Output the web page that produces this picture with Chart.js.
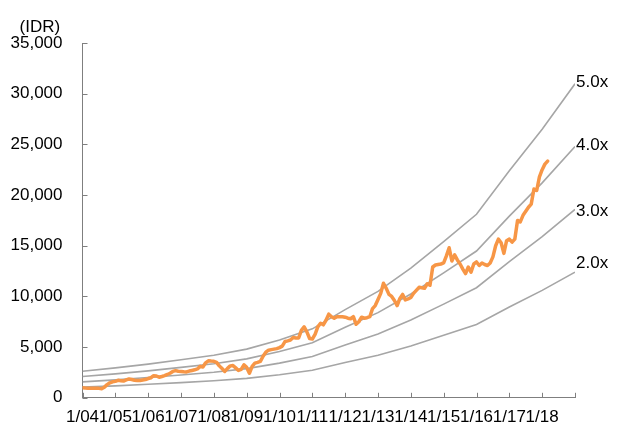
<!DOCTYPE html>
<html>
<head>
<meta charset="utf-8">
<script src="https://cdn.jsdelivr.net/npm/chart.js@4/dist/chart.umd.min.js"></script>
<style>
  html, body { margin: 0; padding: 0; background: #ffffff; }
  #wrap { width: 619px; height: 428px; }
</style>
</head>
<body>
<div id="wrap"><canvas id="chart" width="619" height="428"></canvas></div>
<script>
// Share price (IDR), monthly closes starting January 2004
const startYear = 2004;
const prices = [
  980, 960, 950, 940, 930, 940, 930, 900, 1050, 1300, 1480, 1580,
  1620, 1720, 1690, 1650, 1760, 1860, 1800, 1730, 1700, 1700, 1760, 1800,
  1900, 1980, 2180, 2150, 2030, 2100, 2190, 2300, 2420, 2600, 2680, 2620,
  2600, 2560, 2550, 2640, 2700, 2760, 2850, 3100, 3040, 3450, 3650, 3620,
  3600, 3500, 3150, 2880, 2600, 2900, 3150, 3180, 2950, 2700, 2800, 3250,
  3000, 2420, 3100, 3420, 3500, 3600, 4100, 4500, 4700, 4750, 4800, 4850,
  4950, 5100, 5550, 5620, 5700, 5950, 5900, 5900, 6650, 7000, 6500, 5850,
  5800, 6250, 7000, 7350, 7200, 7650, 8250, 8000, 7850, 8000, 8000, 8000,
  7950, 7850, 7800, 8000, 7250, 7500, 7950, 7850, 7900, 8000, 8800, 9100,
  9700, 10300, 11300, 10800, 10200, 10000, 9600, 9100, 9800, 10200, 9650, 9750,
  9900, 10300, 10600, 10900, 10850, 10800, 11250, 11100, 12900, 13100, 13150, 13200,
  13300, 14000, 14800, 13500, 14100, 13600, 13200, 12700, 12250, 12900, 12400, 13200,
  13400, 13050, 13300, 13150, 13050, 13300, 13900, 15000, 15650, 15300, 14250, 15500,
  15650, 15350, 15650, 17500, 17350, 18000, 18400, 18800, 19100, 20600, 20450, 21800,
  22500, 23050, 23350
];

// P/E band levels at each January, 2004 to 2019
const bandYears = [2004, 2005, 2006, 2007, 2008, 2009, 2010, 2011, 2012, 2013, 2014, 2015, 2016, 2017, 2018, 2019];
const band5x = [2625, 2950, 3325, 3750, 4200, 4800, 5700, 6800, 8700, 10500, 12800, 15400, 18100, 22400, 26500, 30975];
const band4x = [2100, 2360, 2660, 3000, 3360, 3840, 4560, 5440, 6960, 8400, 10240, 12320, 14480, 17920, 21200, 24780];
const band3x = [1575, 1770, 1995, 2250, 2520, 2880, 3420, 4080, 5220, 6300, 7680, 9240, 10860, 13440, 15900, 18585];
const band2x = [1050, 1180, 1330, 1500, 1680, 1920, 2280, 2720, 3480, 4200, 5120, 6160, 7240, 8960, 10600, 12390];
const bandNames = ['5.0x', '4.0x', '3.0x', '2.0x'];

// Axis labels
const xTickLabels = ['1/04', '1/05', '1/06', '1/07', '1/08', '1/09', '1/10', '1/11', '1/12', '1/13', '1/14', '1/15', '1/16', '1/17', '1/18'];
const yMax = 35000;
const yStep = 5000;
const unitLabel = '(IDR)';

const FONT = '"Liberation Sans", Arial, Helvetica, sans-serif';
const FONT_SIZE = 17;
const AXIS_COLOR = '#7f7f7f';
const BAND_COLOR = '#a6a6a6';
const PRICE_COLOR = '#f79646';

const pricePoints = prices.map((v, i) => ({ x: i, y: v }));
const bandPoints = arr => arr.map((v, i) => ({ x: (bandYears[i] - startYear) * 12, y: v }));

function bandDataset(label, arr, dy) {
  return {
    label: label,
    data: bandPoints(arr),
    borderColor: BAND_COLOR,
    borderWidth: 1.6,
    pointRadius: 0,
    tension: 0,
    fill: false,
    endLabelDy: dy
  };
}

// Short tick marks pointing into the plot area
const innerTicks = {
  id: 'innerTicks',
  afterDraw(chart) {
    const { ctx, chartArea, scales } = chart;
    ctx.save();
    ctx.strokeStyle = AXIS_COLOR;
    ctx.lineWidth = 1;
    ctx.beginPath();
    scales.x.ticks.forEach(t => {
      const px = Math.round(scales.x.getPixelForValue(t.value)) + 0.5;
      ctx.moveTo(px, chartArea.bottom);
      ctx.lineTo(px, chartArea.bottom - 5);
    });
    scales.y.ticks.forEach(t => {
      const py = Math.round(scales.y.getPixelForValue(t.value)) + 0.5;
      ctx.moveTo(chartArea.left, py);
      ctx.lineTo(chartArea.left + 5, py);
    });
    ctx.stroke();
    ctx.restore();
  }
};

// Band names at the end of each band line, plus the unit above the value axis
const annotations = {
  id: 'annotations',
  afterDatasetsDraw(chart) {
    const { ctx, chartArea } = chart;
    ctx.save();
    ctx.font = FONT_SIZE + 'px ' + FONT;
    ctx.fillStyle = '#000000';
    ctx.textAlign = 'left';
    ctx.textBaseline = 'middle';
    chart.data.datasets.forEach((ds, i) => {
      if (ds.endLabelDy === undefined) return;
      const meta = chart.getDatasetMeta(i);
      const last = meta.data[meta.data.length - 1];
      ctx.fillText(ds.label, last.x + 1, last.y + ds.endLabelDy);
    });
    ctx.fillText(unitLabel, chartArea.left - 63, chartArea.top - 16);
    ctx.restore();
  }
};

new Chart(document.getElementById('chart'), {
  type: 'line',
  data: {
    datasets: [
      {
        label: 'Price',
        data: pricePoints,
        borderColor: PRICE_COLOR,
        borderWidth: 3.5,
        pointRadius: 0,
        tension: 0,
        fill: false,
        borderJoinStyle: 'round',
        borderCapStyle: 'round'
      },
      bandDataset(bandNames[0], band5x, -1),
      bandDataset(bandNames[1], band4x, -1),
      bandDataset(bandNames[2], band3x, 2),
      bandDataset(bandNames[3], band2x, -9)
    ]
  },
  options: {
    responsive: false,
    animation: false,
    events: [],
    layout: { padding: { left: 0, right: 44, top: 43, bottom: 0 } },
    plugins: {
      legend: { display: false },
      tooltip: { enabled: false },
      title: { display: false }
    },
    scales: {
      x: {
        type: 'linear',
        min: 0,
        max: (bandYears[bandYears.length - 1] - startYear) * 12,
        grid: { display: false, drawTicks: false },
        border: { display: true, color: AXIS_COLOR, width: 1 },
        afterFit(scale) { scale.height = 28; },
        afterBuildTicks(scale) {
          const ticks = [];
          for (let v = 0; v <= scale.max; v += 12) ticks.push({ value: v });
          scale.ticks = ticks;
        },
        ticks: {
          autoSkip: false,
          maxRotation: 0,
          minRotation: 0,
          padding: 9,
          color: '#000000',
          font: { family: FONT, size: FONT_SIZE },
          callback: v => xTickLabels[v / 12] || ''
        }
      },
      y: {
        min: 0,
        max: yMax,
        grid: { display: false, drawTicks: false },
        border: { display: true, color: AXIS_COLOR, width: 1 },
        afterFit(scale) { scale.width = 82.5; },
        ticks: {
          stepSize: yStep,
          padding: 20,
          color: '#000000',
          font: { family: FONT, size: FONT_SIZE },
          callback: v => v.toLocaleString('en-US')
        }
      }
    }
  },
  plugins: [innerTicks, annotations]
});
</script>
</body>
</html>
